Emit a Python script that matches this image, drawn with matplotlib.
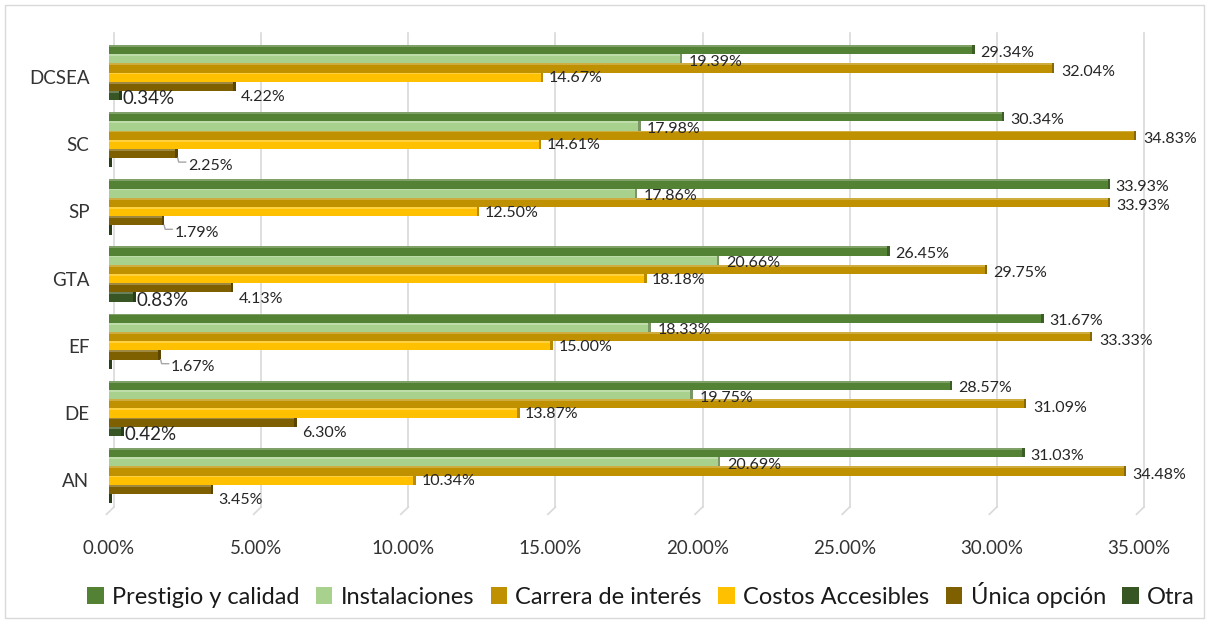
import matplotlib
matplotlib.use('Agg')
import matplotlib.pyplot as plt
from matplotlib.patches import Rectangle, Patch
from matplotlib.lines import Line2D
from matplotlib.transforms import ScaledTranslation
import matplotlib.colors as mcolors
import numpy as np

plt.rcParams['font.family'] = ['Lato', 'DejaVu Sans']

categories = ['AN', 'DE', 'EF', 'GTA', 'SP', 'SC', 'DCSEA']
prestigio = [31.03, 28.57, 31.67, 26.45, 33.93, 30.34, 29.34]
instalaciones = [20.69, 19.75, 18.33, 20.66, 17.86, 17.98, 19.39]
carrera = [34.48, 31.09, 33.33, 29.75, 33.93, 34.83, 32.04]
costos = [10.34, 13.87, 15.00, 18.18, 12.50, 14.61, 14.67]
unica = [3.45, 6.30, 1.67, 4.13, 1.79, 2.25, 4.22]
otra = [0.00, 0.42, 0.00, 0.83, 0.00, 0.00, 0.34]
series_names = ['Prestigio y calidad', 'Instalaciones', 'Carrera de interés',
                'Costos Accesibles', 'Única opción', 'Otra']
xticks = [0, 5, 10, 15, 20, 25, 30, 35]

series = [prestigio, instalaciones, carrera, costos, unica, otra]
colors = ['#548235', '#A9D18E', '#BF9000', '#FFC000', '#7F6000', '#375623']

W, H = 1209, 622
fig = plt.figure(figsize=(W / 100, H / 100), dpi=100)


def px(x0, y0, x1, y1):
    return [x0 / W, 1 - y1 / H, (x1 - x0) / W, (y1 - y0) / H]


# outer border
fig.patches.append(Rectangle((5 / W, 4 / H), (W - 10) / W, (H - 9) / H,
                             transform=fig.transFigure, fill=False,
                             edgecolor='#D9D9D9', linewidth=1.0))

ax = fig.add_axes(px(109, 33, 1139, 507))
ax.set_xlim(0, 35)
ymin, ymax = -0.466, 6.588
ax.set_ylim(ymin, ymax)
xppu = 1030 / 35.0
yppu = 474 / (ymax - ymin)
dxu, dyu = 1 / xppu, 1 / yppu

# gridlines with 3D foot
for v in xticks:
    xg = v + 5 * dxu
    ax.add_line(Line2D([xg, xg], [ymax, ymin], color='#D9D9D9', lw=1.2,
                       zorder=1, clip_on=False))
    ax.add_line(Line2D([xg, xg - 7.5 * dxu], [ymin, ymin - 7.3 * dyu],
                       color='#D9D9D9', lw=1.2, zorder=1, clip_on=False))

y = np.arange(len(categories))
h = 9.2 / yppu


def shade(c, f):
    r, g, b = mcolors.to_rgb(c)
    if f < 1:
        return (r * f, g * f, b * f)
    return (r + (1 - r) * (f - 1), g + (1 - g) * (f - 1), b + (1 - b) * (f - 1))


txtcol = '#262626'
label_off = [(8, 3), (9, 3), (9, 4), (8, 1), (8, 11), (3, 3)]
for k, (vals, col) in enumerate(zip(series, colors)):
    yy = y + (2.5 - k) * h
    vals = np.array(vals)
    ax.barh(yy, vals, height=h, color=col, zorder=3, linewidth=0)
    # top face
    ax.barh(yy + h / 2 - 0.9 * dyu, vals, height=1.8 * dyu,
            color=shade(col, 1.25), zorder=3.5, linewidth=0)
    # end face
    ax.barh(yy, np.full_like(vals, 2.5 * dxu), left=vals, height=h,
            color=shade(col, 0.72), zorder=3.6, linewidth=0)
    dx, dy = label_off[k]
    fs = 13.5 if k == 5 else 11.5
    for yi, v in zip(yy, vals):
        if v <= 0:
            continue
        if k == 4 and v < 3:
            yb = yi - h / 2
            xs = v + 2.5 * dxu
            ax.add_line(Line2D([xs, xs + 1 * dxu, xs + 8 * dxu],
                               [yb, yb - 4 * dyu, yb - 4 * dyu],
                               color='#A6A6A6', lw=1.0, zorder=4))
            ax.annotate(f'{v:.2f}%', xy=(v, yi), xytext=(13, -12),
                        textcoords='offset pixels', ha='left', va='center',
                        fontsize=fs, color=txtcol, zorder=5)
        else:
            ax.annotate(f'{v:.2f}%', xy=(v, yi), xytext=(dx, -dy),
                        textcoords='offset pixels', ha='left', va='center',
                        fontsize=fs, color=txtcol, zorder=5)

ax.set_xticks(xticks, labels=[f'{v:.2f}%' for v in xticks])
ax.set_yticks(y, labels=categories)
ax.tick_params(axis='both', length=0, labelsize=13.5, colors='#333333')
ax.tick_params(axis='x', pad=24)
ax.tick_params(axis='y', pad=14)
for lab in ax.get_yticklabels():
    lab.set_transform(lab.get_transform() +
                      ScaledTranslation(0, -4.5 / 100, fig.dpi_scale_trans))
for s in ax.spines.values():
    s.set_visible(False)
ax.set_facecolor('none')

handles = [Patch(facecolor=c, edgecolor='none') for c in colors]
fig.legend(handles, series_names, loc='center',
           bbox_to_anchor=(641 / W, 1 - 595 / H), ncol=6, frameon=False,
           fontsize=17, handlelength=0.7, handleheight=0.7,
           handletextpad=0.35, columnspacing=0.7, labelcolor='#1a1a1a')

fig.savefig('out.png', dpi=100)
